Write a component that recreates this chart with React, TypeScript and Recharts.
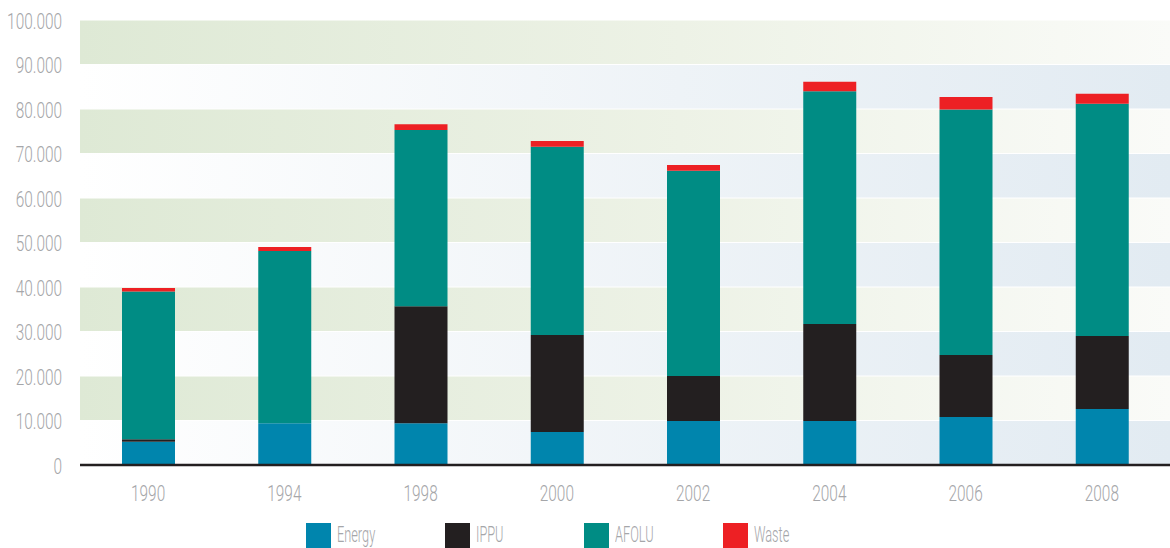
import React from "react";
import { BarChart, Bar, XAxis, YAxis, CartesianGrid, Legend } from "recharts";

// Emissions by sector per inventory year
const years = ["1990", "1994", "1998", "2000", "2002", "2004", "2006", "2008"];
const energy = [5200, 9400, 9400, 7400, 9900, 9900, 10800, 12600];
const ippu = [600, 0, 26300, 21800, 10100, 21800, 13900, 16400];
const afolu = [33200, 38700, 39600, 42300, 46100, 52300, 55200, 52200];
const waste = [800, 900, 1300, 1300, 1300, 2100, 2800, 2200];
const yTicks = [0, 10000, 20000, 30000, 40000, 50000, 60000, 70000, 80000, 90000, 100000];

const sectors = [
  { key: "energy", name: "Energy", color: "#0085ad" },
  { key: "ippu", name: "IPPU", color: "#231f20" },
  { key: "afolu", name: "AFOLU", color: "#008c84" },
  { key: "waste", name: "Waste", color: "#ed2024" },
];

const data = years.map((year, i) => ({
  year,
  energy: energy[i],
  ippu: ippu[i],
  afolu: afolu[i],
  waste: waste[i],
}));

const FONT = "Roboto, 'Liberation Sans', sans-serif";
const TEXT_COLOR = "#a5a6a9";

const formatThousands = (v: number) =>
  String(v).replace(/\B(?=(\d{3})+(?!\d))/g, ".");

const YTick = (props: any) => {
  const { x, y, payload } = props;
  return (
    <g transform={`translate(${x - 10},${y + 3})`}>
      <text
        transform="scale(0.7,1)"
        textAnchor="end"
        dominantBaseline="middle"
        fontFamily={FONT}
        fontWeight={300}
        fontSize={22}
        fill={TEXT_COLOR}
      >
        {formatThousands(payload.value)}
      </text>
    </g>
  );
};

const XTick = (props: any) => {
  const { x, y, payload } = props;
  return (
    <g transform={`translate(${x},${y + 22})`}>
      <text
        transform="scale(0.7,1)"
        textAnchor="middle"
        dominantBaseline="middle"
        fontFamily={FONT}
        fontWeight={300}
        fontSize={22}
        fill={TEXT_COLOR}
      >
        {payload.value}
      </text>
    </g>
  );
};

const LegendContent = () => (
  <div
    style={{
      display: "flex",
      paddingLeft: 306,
      height: 38,
      alignItems: "flex-end",
    }}
  >
    {sectors.map((s) => (
      <div
        key={s.key}
        style={{ width: 139, display: "flex", alignItems: "center", height: 26 }}
      >
        <div style={{ width: 25, height: 25, background: s.color }} />
        <span
          style={{
            marginLeft: 6,
            fontFamily: FONT,
            fontWeight: 300,
            fontSize: 22,
            color: TEXT_COLOR,
            display: "inline-block",
            transform: "scaleX(0.58)",
            transformOrigin: "left center",
            whiteSpace: "nowrap",
            lineHeight: "26px",
          }}
        >
          {s.name}
        </span>
      </div>
    ))}
  </div>
);

export default function App() {
  return (
    <div style={{ position: "absolute", left: 0, top: 0, width: 1170, height: 548, background: "#fff" }}>
      <BarChart
        width={1170}
        height={548}
        data={data}
        margin={{ top: 20, right: 0, bottom: 0, left: 0 }}
      >
        <defs>
          <linearGradient id="bandGreen" x1="0" y1="0" x2="1" y2="0">
            <stop offset="0%" stopColor="#dee9d5" />
            <stop offset="55%" stopColor="#edf2e6" />
            <stop offset="100%" stopColor="#fafbf8" />
          </linearGradient>
          <linearGradient id="bandBlue" x1="0" y1="0" x2="1" y2="0">
            <stop offset="0%" stopColor="#ffffff" />
            <stop offset="55%" stopColor="#eef3f7" />
            <stop offset="100%" stopColor="#e2ebf2" />
          </linearGradient>
        </defs>
        <CartesianGrid
          vertical={false}
          stroke="#ffffff"
          strokeWidth={1}
          horizontalFill={["url(#bandGreen)", "url(#bandBlue)"]}
          fillOpacity={1}
        />
        <XAxis
          dataKey="year"
          height={45}
          tickLine={false}
          axisLine={{ stroke: "#231f20", strokeWidth: 2.5 }}
          tick={<XTick />}
          interval={0}
        />
        <YAxis
          width={80}
          domain={[0, 100000]}
          ticks={yTicks}
          allowDataOverflow
          axisLine={false}
          tickLine={false}
          tick={<YTick />}
          interval={0}
        />
        <Legend verticalAlign="bottom" height={38} content={<LegendContent />} />
        {sectors.map((s) => (
          <Bar
            key={s.key}
            dataKey={s.key}
            name={s.name}
            stackId="total"
            fill={s.color}
            barSize={53}
            isAnimationActive={false}
          />
        ))}
      </BarChart>
    </div>
  );
}
